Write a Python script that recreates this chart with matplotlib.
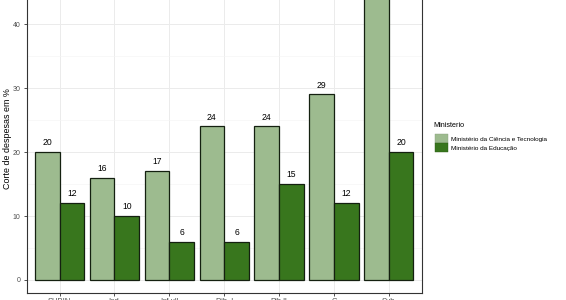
import numpy as np
import matplotlib.pyplot as plt
from matplotlib import font_manager
from matplotlib.patches import Patch
from matplotlib.ticker import MultipleLocator

# pick the regular (not narrow) Liberation Sans file if there is one
sans = 'DejaVu Sans'
for f in font_manager.fontManager.ttflist:
    if f.name == 'Liberation Sans' and 'Narrow' not in f.fname and f.style == 'normal':
        sans = 'Liberation Sans'
        font_manager.fontManager.ttflist = [
            g for g in font_manager.fontManager.ttflist
            if not (g.name == 'Liberation Sans' and 'Narrow' in g.fname)]
        break
plt.rcParams['font.family'] = [sans, 'DejaVu Sans']

categories = ['SUBIN', 'Ind.', 'Inf.ull', 'Pib. l', 'Pib.ll', 'C', 'Sub']
ciencia = [20, 16, 17, 24, 24, 29, 46]
educacao = [12, 10, 6, 6, 15, 12, 20]
series_names = ['Ministério da Ciência e Tecnologia', 'Ministério da Educação']

LIGHT = '#9dbb8f'
DARK = '#38761d'
EDGE = '#142010'

fig = plt.figure(figsize=(5.66, 3.0), dpi=100)
# panel reaches past the top of the figure, like the cropped reference
ax = fig.add_axes([26.7 / 566, 6.7 / 300, 395 / 566, 1.068])

x = np.arange(1, len(categories) + 1)
w = 0.45
ax.bar(x - w / 2, ciencia, w, color=LIGHT, edgecolor=EDGE, linewidth=0.9, zorder=3)
ax.bar(x + w / 2, educacao, w, color=DARK, edgecolor=EDGE, linewidth=0.9, zorder=3)

for xi, v in zip(x - w / 2, ciencia):
    ax.annotate(str(v), (xi, v), xytext=(0, 3.5), textcoords='offset points',
                ha='center', va='bottom', fontsize=6.2, color='black')
for xi, v in zip(x + w / 2, educacao):
    ax.annotate(str(v), (xi, v), xytext=(0, 3.5), textcoords='offset points',
                ha='center', va='bottom', fontsize=6.2, color='black')

ax.set_xlim(0.4, len(categories) + 0.6)
ax.set_ylim(-2.08, 48)
ax.set_xticks(x)
ax.set_xticklabels(categories)
ax.yaxis.set_major_locator(MultipleLocator(10))
ax.yaxis.set_minor_locator(MultipleLocator(5))

ax.grid(True, which='major', color='#ebebeb', linewidth=0.7, zorder=0)
ax.grid(True, which='minor', axis='y', color='#f4f4f4', linewidth=0.4, zorder=0)
ax.set_axisbelow(True)
for s in ax.spines.values():
    s.set_color('#333333')
    s.set_linewidth(0.8)
ax.tick_params(which='major', length=2.5, width=0.6, color='#333333',
               labelcolor='#4d4d4d', labelsize=5, pad=2)
ax.tick_params(axis='x', labelsize=5.5, pad=1)
ax.tick_params(which='minor', length=0)

fig.text(8 / 566, 1 - 139 / 300, 'Corte de despesas em %', rotation=90,
         ha='center', va='center', fontsize=6.4)

fig.text(433 / 566, 1 - 125 / 300, 'Ministerio', ha='left', va='center', fontsize=5.2)
handles = [Patch(facecolor=LIGHT, edgecolor='#8a9f80', linewidth=0.3),
           Patch(facecolor=DARK, edgecolor='#2c5c17', linewidth=0.3)]
leg = fig.legend(handles, series_names, loc='upper left',
                 bbox_to_anchor=(435 / 566, 1 - 134 / 300), frameon=False,
                 fontsize=4.6, handlelength=2.0, handleheight=1.85,
                 handletextpad=0.55, labelspacing=0.0, borderaxespad=0, borderpad=0)

fig.savefig('out.png', dpi=100)
